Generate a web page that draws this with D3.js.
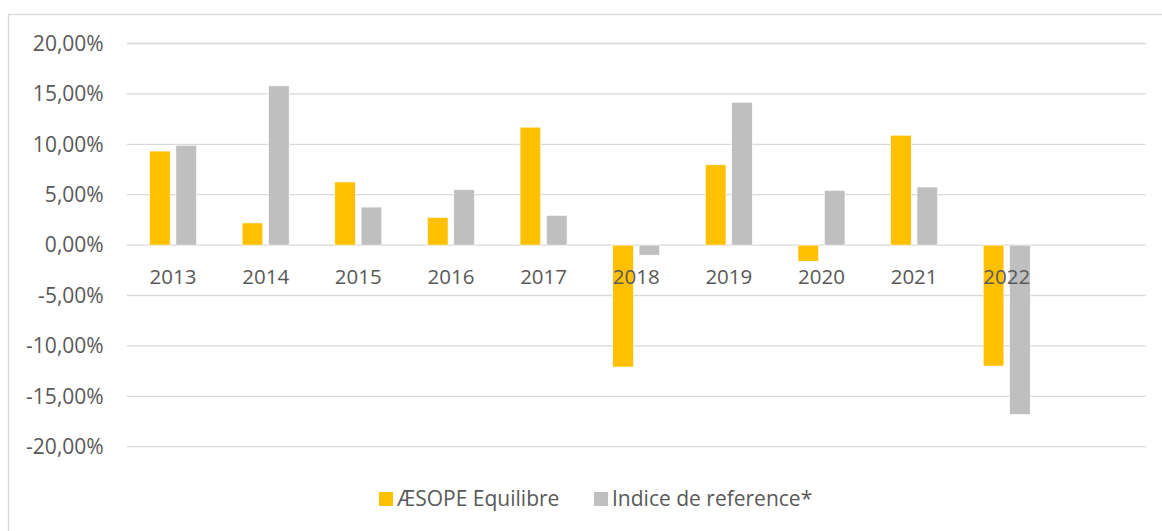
<!DOCTYPE html>
<html>
<head>
<meta charset="utf-8">
<script src="https://cdn.jsdelivr.net/npm/d3@7"></script>
<style>
  body { margin: 0; background: #fff; }
  text { font-family: "Open Sans", sans-serif; fill: #595959; }
</style>
</head>
<body>
<div id="chart"></div>
<script>
// Annual performance: fund vs benchmark
const years = ['2013', '2014', '2015', '2016', '2017', '2018', '2019', '2020', '2021', '2022'];
const fundValues = [9.33, 2.2, 6.26, 2.75, 11.7, -12.1, 7.97, -1.6, 10.9, -12.0];
const indexValues = [9.9, 15.8, 3.77, 5.5, 2.95, -1.0, 14.17, 5.43, 5.76, -16.8];
const seriesNames = ['ÆSOPE Equilibre', 'Indice de reference*'];
const seriesColors = ['#FFC000', '#BFBFBF'];
const yTicks = [-20, -15, -10, -5, 0, 5, 10, 15, 20];

const W = 1162, H = 531;
const plot = { left: 126.7, right: 1145.7, top: 43.5, bottom: 446.7 };

const svg = d3.select('#chart')
    .append('svg')
    .attr('width', W)
    .attr('height', H);

// Chart frame (right and bottom edges run off the picture)
svg.append('rect')
    .attr('x', 8.5)
    .attr('y', 14.5)
    .attr('width', W + 10)
    .attr('height', H + 10)
    .attr('fill', 'none')
    .attr('stroke', '#d9d9d9')
    .attr('stroke-width', 1.3);

// The source table has one empty row after 2022
const x0 = d3.scaleBand()
    .domain([...years, ''])
    .range([plot.left, plot.right])
    .padding(0);

const x1 = d3.scaleBand()
    .domain(seriesNames)
    .range([-23.5, 23.5])
    .paddingInner(0.217);

const y = d3.scaleLinear()
    .domain([-20, 20])
    .range([plot.bottom, plot.top]);

const locale = d3.formatLocale({ decimal: ',', thousands: ' ', grouping: [3], currency: ['', '€'], minus: '-' });
const pct = v => locale.format('.2f')(v) + '%';

// Gridlines
svg.append('g')
    .selectAll('line')
    .data(yTicks)
    .enter()
    .append('line')
    .attr('x1', plot.left)
    .attr('x2', plot.right)
    .attr('y1', d => y(d))
    .attr('y2', d => y(d))
    .attr('stroke', '#d9d9d9')
    .attr('stroke-width', 1.3);

// Y axis labels
const yAxis = svg.append('g')
    .attr('transform', `translate(${plot.left - 23}, 0)`)
    .call(d3.axisLeft(y).tickValues(yTicks).tickFormat(pct).tickSize(0).tickPadding(0));
yAxis.select('.domain').remove();
yAxis.selectAll('text')
    .style('font-family', '"Open Sans", sans-serif')
    .style('font-size', '21px')
    .attr('fill', '#595959');

// Bars
const rows = years.map((yr, i) => ({ year: yr, values: [fundValues[i], indexValues[i]] }));

const groups = svg.append('g')
    .selectAll('g')
    .data(rows)
    .enter()
    .append('g')
    .attr('transform', d => `translate(${x0(d.year) + x0.bandwidth() / 2}, 0)`);

groups.selectAll('rect')
    .data(d => d.values.map((v, j) => ({ name: seriesNames[j], value: v, color: seriesColors[j] })))
    .enter()
    .append('rect')
    .attr('x', d => x1(d.name))
    .attr('width', x1.bandwidth())
    .attr('y', d => y(Math.max(0, d.value)))
    .attr('height', d => Math.abs(y(d.value) - y(0)))
    .attr('fill', d => d.color)
    .attr('stroke', '#ffffff')
    .attr('stroke-width', 0.6);

// Category labels sit just below the zero line
const xAxis = svg.append('g')
    .attr('transform', `translate(0, ${y(0)})`)
    .call(d3.axisBottom(x0).tickSize(0).tickPadding(24));
xAxis.select('.domain').remove();
xAxis.selectAll('text')
    .style('font-family', '"Open Sans", sans-serif')
    .style('font-size', '20.5px')
    .attr('fill', '#595959');

// Legend
const legendX = [379, 594];
const legend = svg.append('g')
    .selectAll('g')
    .data(seriesNames)
    .enter()
    .append('g')
    .attr('transform', (d, i) => `translate(${legendX[i]}, 492)`);

legend.append('rect')
    .attr('width', 14)
    .attr('height', 14)
    .attr('fill', (d, i) => seriesColors[i]);

legend.append('text')
    .attr('x', 18)
    .attr('y', 7)
    .attr('dy', '0.35em')
    .style('font-size', '21px')
    .text(d => d);
</script>
</body>
</html>
